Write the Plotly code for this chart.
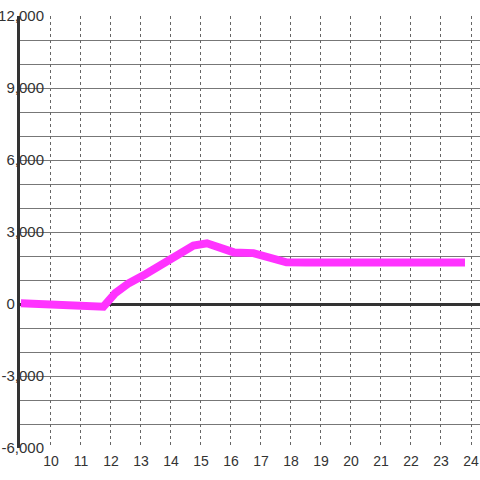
import plotly.graph_objects as go

hours = [9.0, 10.0, 11.0, 11.35, 11.75, 12.15, 12.6, 13.15, 13.7, 14.25, 14.75, 15.2,
         15.75, 16.1, 16.75, 17.3, 17.85, 18.5, 19, 20, 21, 22, 23, 23.8]
values = [30, -15, -55, -110, -110, 460, 870, 1240, 1620, 2080, 2430, 2530,
          2250, 2150, 2120, 1900, 1740, 1730, 1730, 1730, 1730, 1730, 1730, 1730]
x_ticks = list(range(10, 25))
y_ticks = [-6000, -3000, 0, 3000, 6000, 9000, 12000]
y_tick_text = ["-6,000", "-3,000", "0" + "\u00a0" * 7, "3,000", "6,000", "9,000", "12,000"]

fig = go.Figure()
fig.add_trace(go.Scatter(x=hours, y=values, mode="lines",
                         line=dict(color="#ff33ff", width=8, shape="linear"),
                         hoverinfo="skip", showlegend=False))

fig.update_layout(
    width=480, height=480,
    margin=dict(l=20, r=0, t=16, b=32),
    paper_bgcolor="white", plot_bgcolor="white",
    font=dict(family="Liberation Sans, Arial, sans-serif", color="#333"),
    xaxis=dict(range=[8.97, 24.3], tickvals=x_ticks, ticktext=[str(v) for v in x_ticks],
               showgrid=True, gridcolor="#666", griddash="3px,3px", gridwidth=1,
               zeroline=False, showline=False, ticks="", tickfont=dict(size=14),
               ticklabelstandoff=3, automargin=False, fixedrange=True),
    yaxis=dict(range=[-6000, 12000], tickvals=y_ticks, ticktext=y_tick_text,
               showgrid=True, gridcolor="#777", gridwidth=1,
               minor=dict(dtick=1000, tick0=0, showgrid=True, gridcolor="#777", gridwidth=1),
               zeroline=True, zerolinecolor="#333", zerolinewidth=3,
               showline=True, linecolor="#333", linewidth=3,
               ticks="", tickfont=dict(size=15), ticklabelstandoff=-30,
               automargin=False, fixedrange=True),
)

fig.write_html("out.html", config={"displayModeBar": False},
               post_script="document.body.style.margin='0';document.body.style.overflow='hidden';")
